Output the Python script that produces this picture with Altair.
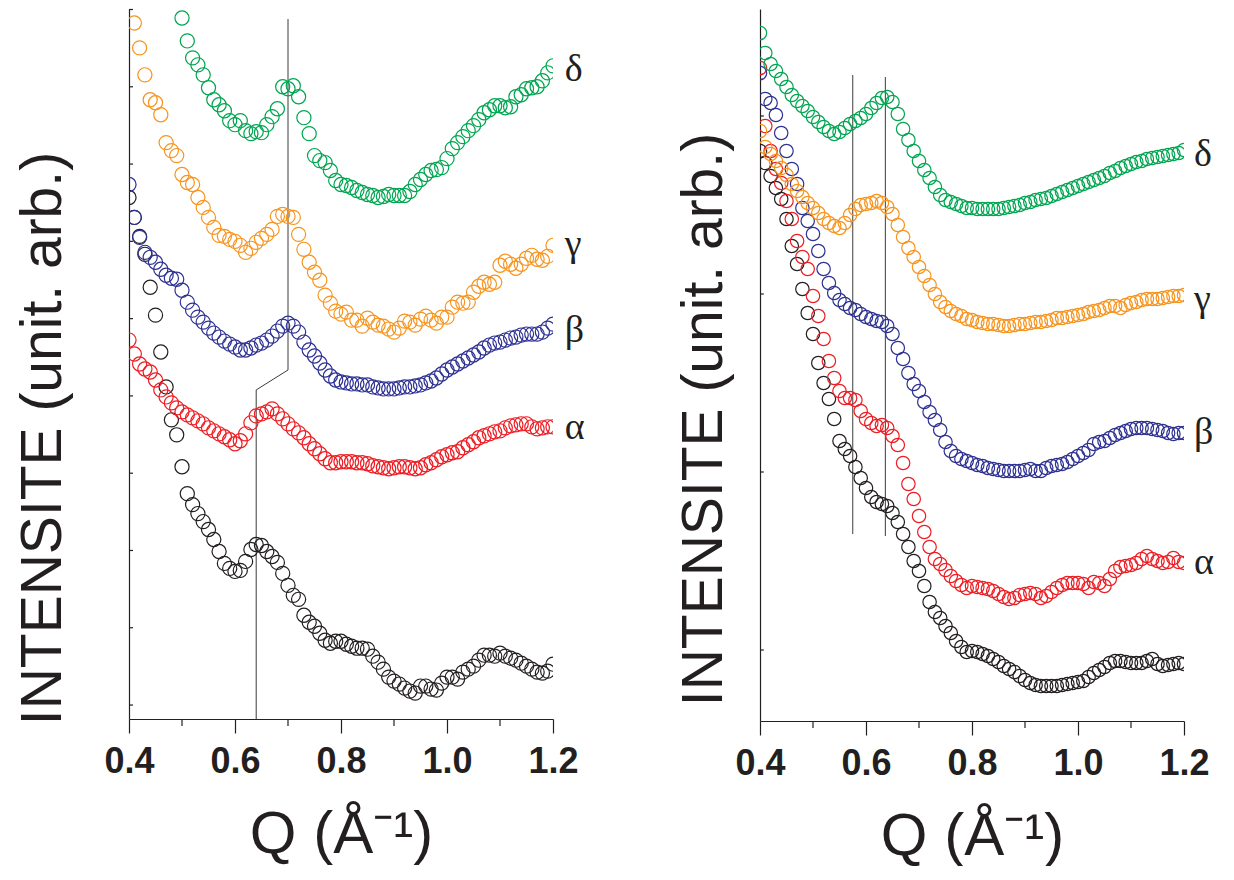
import altair as alt
import pandas as pd

# ---------------- data (arbitrary intensity units) ----------------
Q_GRID = [0.40, 0.41, 0.42, 0.43, 0.44, 0.45, 0.46, 0.47, 0.48, 0.49,
          0.50, 0.51, 0.52, 0.53, 0.54, 0.55, 0.56, 0.57, 0.58, 0.59,
          0.60, 0.61, 0.62, 0.63, 0.64, 0.65, 0.66, 0.67, 0.68, 0.69,
          0.70, 0.71, 0.72, 0.73, 0.74, 0.75, 0.76, 0.77, 0.78, 0.79,
          0.80, 0.81, 0.82, 0.83, 0.84, 0.85, 0.86, 0.87, 0.88, 0.89,
          0.90, 0.91, 0.92, 0.93, 0.94, 0.95, 0.96, 0.97, 0.98, 0.99,
          1.00, 1.01, 1.02, 1.03, 1.04, 1.05, 1.06, 1.07, 1.08, 1.09,
          1.10, 1.11, 1.12, 1.13, 1.14, 1.15, 1.16, 1.17, 1.18, 1.19,
          1.20]

SERIES = ["ref", "α", "β", "γ", "δ"]
COLORS = ["#231f20", "#ee1d24", "#2e3192", "#f7941d", "#00a651"]

# left panel
LEFT_REF = [522, 502, 483, 465, 432, 404, 367, 332, 299, 284,
            252, 225, 214, 205, 197, 189, 179, 167, 155, 150,
            147, 148, 157, 169, 174, 173, 167, 162, 156, 145,
            133, 123, 119, 103, 96, 92, 85, 78, 75, 77,
            77, 74, 72, 70, 70, 69, 62, 56, 49, 41,
            37, 34, 30, 27, 25, 32, 32, 29, 28, 35,
            41, 41, 39, 46, 49, 52, 58, 63, 63, 62,
            65, 62, 60, 58, 55, 52, 49, 46, 45, 47,
            54]
LEFT_ALPHA = [379, 365, 355, 350, 347, 339, 329, 322, 316, 311,
              307, 304, 301, 298, 295, 291, 288, 285, 282, 279,
              275, 278, 285, 296, 303, 305, 307, 310, 305, 300,
              295, 290, 286, 281, 275, 270, 265, 260, 256, 256,
              257, 257, 257, 256, 256, 255, 253, 252, 251, 250,
              251, 252, 252, 251, 250, 251, 254, 256, 259, 262,
              264, 266, 267, 271, 274, 277, 281, 283, 285, 287,
              288, 291, 293, 294, 295, 295, 292, 290, 291, 292,
              292]
LEFT_BETA = [535, 502, 482, 467, 462, 457, 450, 444, 441, 440,
             429, 417, 409, 402, 397, 391, 386, 382, 378, 375,
             372, 369, 369, 371, 374, 376, 379, 383, 388, 393,
             396, 393, 387, 377, 369, 363, 356, 349, 343, 339,
             337, 336, 335, 335, 334, 334, 332, 331, 330, 330,
             330, 331, 332, 332, 333, 334, 336, 338, 341, 345,
             349, 352, 355, 358, 361, 364, 367, 371, 374, 376,
             377, 379, 381, 382, 384, 385, 385, 385, 387, 391,
             395]
# starts at Q = 0.41
LEFT_GAMMA = [697, 672, 645, 620, 617, 605, 577, 569, 564, 545,
              537, 535, 522, 512, 502, 492, 484, 483, 480, 478,
              474, 467, 471, 477, 481, 485, 490, 503, 505, 503,
              502, 485, 470, 457, 447, 439, 424, 416, 408, 405,
              407, 399, 399, 393, 401, 397, 394, 393, 390, 387,
              391, 398, 397, 394, 400, 403, 399, 396, 402, 402,
              412, 417, 416, 417, 427, 433, 437, 435, 437, 454,
              458, 455, 451, 455, 461, 464, 460, 459, 463, 474]
# starts at Q = 0.50
LEFT_DELTA = [702, 679, 662, 655, 645, 632, 620, 615, 609, 599,
              595, 599, 589, 586, 588, 587, 595, 603, 611, 633,
              631, 634, 623, 602, 586, 564, 559, 557, 549, 539,
              535, 534, 532, 529, 527, 525, 524, 522, 523, 525,
              524, 524, 524, 528, 535, 540, 545, 549, 550, 552,
              561, 571, 577, 583, 589, 594, 600, 607, 610, 614,
              614, 612, 613, 623, 625, 631, 632, 633, 639, 647,
              654]

# right panel
RIGHT_REF = [570, 558, 545, 533, 522, 502, 475, 457, 432, 408,
             387, 358, 338, 322, 302, 280, 272, 265, 254, 243,
             233, 224, 219, 217, 215, 208, 199, 187, 174, 160,
             150, 135, 119, 109, 103, 95, 88, 80, 74, 69,
             70, 69, 67, 65, 62, 59, 55, 52, 49, 45,
             41, 38, 36, 35, 35, 35, 35, 36, 37, 38,
             39, 40, 44, 48, 51, 54, 58, 60, 60, 59,
             58, 58, 58, 60, 62, 57, 55, 56, 57, 58,
             57]
RIGHT_ALPHA = [653, 595, 570, 552, 538, 520, 502, 480, 464, 452,
               425, 405, 382, 360, 343, 330, 323, 323, 321, 310,
               302, 298, 295, 296, 293, 285, 276, 258, 237, 222,
               205, 189, 174, 162, 157, 151, 145, 140, 136, 133,
               135, 134, 133, 132, 130, 127, 124, 122, 123, 126,
               127, 128, 127, 123, 125, 129, 133, 136, 138, 138,
               138, 137, 133, 139, 138, 135, 142, 150, 154, 155,
               156, 158, 162, 165, 162, 160, 158, 159, 163, 159,
               158]
RIGHT_BETA = [648, 622, 618, 606, 588, 570, 552, 537, 513, 500,
              487, 470, 452, 438, 428, 421, 417, 413, 411, 407,
              404, 402, 400, 399, 395, 387, 373, 362, 348, 337,
              330, 319, 309, 301, 291, 279, 270, 265, 262, 260,
              258, 256, 255, 253, 252, 251, 250, 250, 250, 250,
              251, 252, 250, 250, 253, 255, 256, 257, 259, 262,
              265, 268, 271, 277, 279, 280, 283, 286, 288, 290,
              292, 293, 293, 293, 292, 291, 290, 288, 287, 288,
              288]
RIGHT_GAMMA = [590, 574, 567, 560, 553, 546, 537, 530, 524, 518,
               513, 508, 502, 498, 495, 493, 498, 506, 512, 516,
               517, 518, 520, 518, 514, 507, 496, 484, 473, 464,
               454, 445, 436, 427, 419, 414, 410, 407, 405, 402,
               401, 399, 398, 397, 397, 396, 395, 395, 396, 397,
               397, 398, 399, 399, 400, 401, 403, 403, 404, 405,
               406, 407, 409, 410, 411, 413, 415, 415, 413, 416,
               418, 419, 421, 422, 422, 422, 423, 424, 425, 425,
               426]
RIGHT_DELTA = [688, 668, 657, 650, 642, 634, 626, 620, 615, 610,
               604, 599, 594, 590, 587, 589, 593, 597, 600, 603,
               607, 613, 618, 623, 624, 619, 607, 592, 581, 570,
               560, 551, 543, 534, 526, 521, 519, 517, 515, 513,
               513, 512, 512, 512, 512, 512, 513, 514, 515, 516,
               518, 519, 521, 522, 523, 525, 527, 529, 531, 533,
               535, 537, 539, 541, 543, 545, 548, 550, 553, 555,
               557, 559, 560, 562, 563, 564, 565, 566, 567, 568,
               571]

# guide lines (polyline in the left panel, two verticals in the right one)
LEFT_GUIDE_Q = [0.70, 0.70, 0.64, 0.64]
LEFT_GUIDE_V = [701, 349, 329, -1]
RIGHT_GUIDE_Q = [0.575, 0.575, 0.6365, 0.6365]
RIGHT_GUIDE_V = [646, 187, 644, 185]
RIGHT_GUIDE_ID = [0, 0, 1, 1]

# series labels
LABELS = ["α", "β", "γ", "δ"]
LEFT_LABEL_Q = 1.222
LEFT_LABEL_V = [280, 377, 463, 639]
RIGHT_LABEL_Q = 1.219
RIGHT_LABEL_V = [147, 277, 410, 555]

# axes
X_MAJOR = [0.4, 0.6, 0.8, 1.0, 1.2]
X_MINOR = [0.5, 0.7, 0.9, 1.1]
LEFT_YTICKS = [13, 90.5, 168, 245.5, 323, 400.5, 478, 555.5, 633, 710.5]
RIGHT_YTICKS = [71, 249, 427, 605]

INK = "#231f20"
SANS = "Liberation Sans"


def series_frame(pairs):
    rows = []
    for name, qs, vs in pairs:
        for q, v in zip(qs, vs):
            rows.append({"q": q, "v": v, "s": name})
    return pd.DataFrame(rows)


def panel(df, ydomain, yticks, height, size, guide_df, label_q, label_v,
          ytitle_x, ytitle_y):
    xscale = alt.Scale(domain=[0.4, 1.2], nice=False, zero=False)
    yscale = alt.Scale(domain=ydomain, nice=False, zero=False)
    xaxis = alt.Axis(
        values=X_MAJOR, format=".1f", grid=False,
        tickSize=14, tickWidth=1.2, tickColor=INK,
        domainColor=INK, domainWidth=1.2,
        labelFont=SANS, labelFontSize=36, labelFontWeight="bold",
        labelColor=INK, labelPadding=11, labelFlush=False,
        labelOverlap=False,
        title="Q (Å⁻¹)", titleFont=SANS, titleFontSize=60,
        titleFontWeight="normal", titleColor=INK, titleY=86)
    yaxis = alt.Axis(
        values=yticks, labels=False, ticks=False, grid=False,
        domainColor=INK, domainWidth=1.2,
        title="INTENSITE (unit. arb.)", titleFont=SANS,
        titleFontSize=57, titleFontWeight="normal", titleColor=INK,
        titleBaseline="bottom", titleX=ytitle_x, titleY=ytitle_y)

    X = alt.X("q:Q", scale=xscale, axis=xaxis)
    Y = alt.Y("v:Q", scale=yscale, axis=yaxis)

    guides = alt.Chart(guide_df).mark_line(
        color="#3c3c3c", strokeWidth=1
    ).encode(x=X, y=Y, detail="g:N", order="o:Q")

    points = alt.Chart(df).mark_point(
        shape="circle", filled=False, size=size, strokeWidth=1.2,
        opacity=1, clip=True
    ).encode(
        x=X, y=Y,
        color=alt.Color("s:N", scale=alt.Scale(domain=SERIES, range=COLORS),
                        legend=None),
    )

    ytick_layer = alt.Chart(pd.DataFrame({"v": yticks})).mark_rule(
        color=INK, strokeWidth=1.2
    ).encode(y=Y, x=alt.value(0), x2=alt.value(4))

    minor_layer = alt.Chart(pd.DataFrame({"q": X_MINOR})).mark_rule(
        color=INK, strokeWidth=1.2
    ).encode(x=X, y=alt.value(height), y2=alt.value(height + 7))

    label_layer = alt.Chart(pd.DataFrame({
        "q": [label_q] * len(LABELS), "v": label_v, "t": LABELS
    })).mark_text(
        align="left", baseline="alphabetic", font="Liberation Serif",
        fontSize=38, color=INK
    ).encode(x=X, y=Y, text="t:N")

    return alt.layer(guides, points, ytick_layer, minor_layer,
                     label_layer).properties(width=424, height=height)


left_df = series_frame([
    ("ref", Q_GRID, LEFT_REF),
    ("α", Q_GRID, LEFT_ALPHA),
    ("β", Q_GRID, LEFT_BETA),
    ("γ", Q_GRID[1:], LEFT_GAMMA),
    ("δ", Q_GRID[10:], LEFT_DELTA),
])
right_df = series_frame([
    ("ref", Q_GRID, RIGHT_REF),
    ("α", Q_GRID, RIGHT_ALPHA),
    ("β", Q_GRID, RIGHT_BETA),
    ("γ", Q_GRID, RIGHT_GAMMA),
    ("δ", Q_GRID, RIGHT_DELTA),
])

left_guide = pd.DataFrame({"q": LEFT_GUIDE_Q, "v": LEFT_GUIDE_V,
                           "g": [0] * len(LEFT_GUIDE_Q),
                           "o": list(range(len(LEFT_GUIDE_Q)))})
right_guide = pd.DataFrame({"q": RIGHT_GUIDE_Q, "v": RIGHT_GUIDE_V,
                            "g": RIGHT_GUIDE_ID,
                            "o": list(range(len(RIGHT_GUIDE_Q)))})

left = panel(left_df, [-1, 711], LEFT_YTICKS, 710, 200, left_guide,
             LEFT_LABEL_Q, LEFT_LABEL_V, -57, 429)
right = panel(right_df, [0, 712], RIGHT_YTICKS, 712, 180, right_guide,
              RIGHT_LABEL_Q, RIGHT_LABEL_V, -27, 410)

chart = alt.hconcat(left, right, spacing=207, bounds="flush").properties(
    padding={"left": 6, "top": 0, "right": 0, "bottom": 0},
    background="white",
).configure_view(stroke=None)

chart.save("out.html", embed_options={"renderer": "svg", "actions": False})
